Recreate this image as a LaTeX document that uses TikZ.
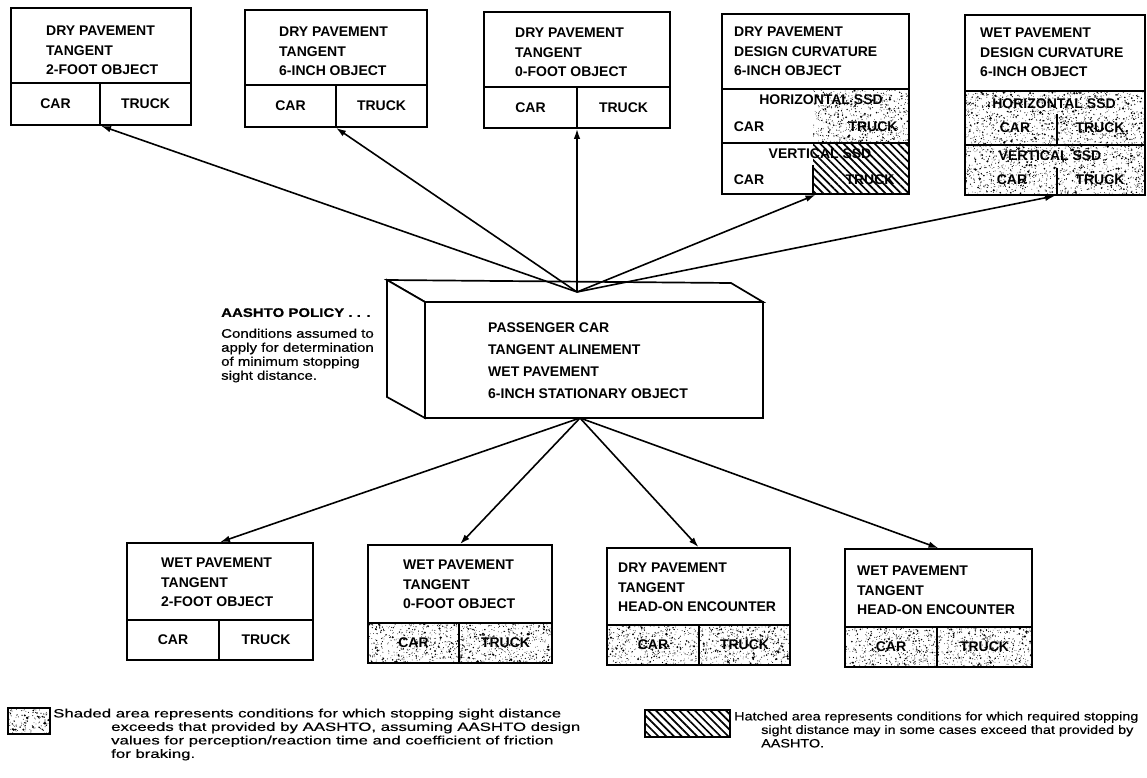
\documentclass[tikz,border=0pt]{standalone}
\usepackage{fontspec}
\setmainfont{Liberation Sans}
\newfontfamily\wideA[FakeStretch=1.2,FakeBold=0.6]{Liberation Sans}
\newfontfamily\legL[FakeStretch=1.4,FakeBold=0.5]{Liberation Sans}
\newfontfamily\legR[FakeStretch=1.2,FakeBold=0.5]{Liberation Sans}
\usetikzlibrary{arrows.meta,patterns.meta,fit}
\newcommand{\scatterdots}[4]{%
  \begin{scope}
    \clip (#1,#2) rectangle (#3,#4);
    \pgfmathtruncatemacro{\spcount}{abs(((#3-#1)*0.36)*((#4-#2)*0.36))}
    \foreach \k in {1,...,\spcount}{%
      \pgfmathsetmacro{\sx}{#1+rnd*(#3-#1)}%
      \pgfmathsetmacro{\sy}{#2+rnd*(#4-#2)}%
      \pgfmathsetmacro{\sr}{0.35+1.3*rnd*rnd*rnd}%
      \fill (\sx,\sy) circle[radius=\sr pt];
    }
  \end{scope}}
\begin{document}
\begin{tikzpicture}[x=1pt,y=-1pt,line join=miter,
  frame/.style={draw,line width=1.7pt,inner sep=0pt},
  rule/.style={line width=1.4pt},
  arr/.style={line width=1.6pt,-{Latex[length=10pt,width=6.5pt]}},
  head/.style={anchor=north west,align=left,inner sep=0pt,font=\fontsize{14}{19.3}\selectfont\bfseries},
  cell/.style={inner sep=0pt,font=\fontsize{14}{17}\selectfont\bfseries},
  hatch/.style={pattern={Lines[angle=-45,distance=5.5pt,line width=1.7pt]}},
  paraA/.style={anchor=north west,align=left,inner sep=0pt,font=\wideA\fontsize{12.5}{14}\selectfont},
  legLtxt/.style={anchor=north west,align=left,inner sep=0pt,font=\legL\fontsize{12}{13.5}\selectfont},
  legRtxt/.style={anchor=north west,align=left,inner sep=0pt,font=\legR\fontsize{12}{13.5}\selectfont}]
\useasboundingbox (0,0) rectangle (1147,778);
\fill[white] (0,0) rectangle (1147,778);
\pgfmathsetseed{12345}
% shaded (speckled) areas
\scatterdots{813}{89}{909}{143}
\scatterdots{965}{91}{1145}{195}
\scatterdots{368}{623}{552}{663}
\scatterdots{607}{625}{790}{665}
\scatterdots{845}{627}{1032}{667}
\scatterdots{8}{708}{50}{734}
% hatched areas
\fill[hatch] (813,143) rectangle (909,194);
\fill[hatch] (645,710) rectangle (730,737);

% ---------- top row ----------
\node[frame,fit={(11,8)(191,125)}] (b1) {};
\draw[rule] (11,83) -- (191,83) (100,83) -- (100,125);
\node[head] (t1) at (46,26) {DRY PAVEMENT\\TANGENT\\2-FOOT OBJECT};
\node[cell] (c1) at (55.5,104) {CAR};
\node[cell] (k1) at (145.5,104) {TRUCK};

\node[frame,fit={(245,10)(427,127)}] (b2) {};
\draw[rule] (245,85) -- (427,85) (336,85) -- (336,127);
\node[head] (t2) at (279,27) {DRY PAVEMENT\\TANGENT\\6-INCH OBJECT};
\node[cell] (c2) at (290.5,106) {CAR};
\node[cell] (k2) at (381.5,106) {TRUCK};

\node[frame,fit={(484,12)(670,128)}] (b3) {};
\draw[rule] (484,87) -- (670,87) (577,87) -- (577,128);
\node[head] (t3) at (515,28) {DRY PAVEMENT\\TANGENT\\0-FOOT OBJECT};
\node[cell] (c3) at (530.5,107.5) {CAR};
\node[cell] (k3) at (623.5,107.5) {TRUCK};

\node[frame,fit={(722,14)(909,194)}] (b4) {};
\draw[rule] (722,89) -- (909,89) (722,143) -- (909,143) (813,165) -- (813,194);
\node[head] (t4) at (734,27) {DRY PAVEMENT\\DESIGN CURVATURE\\6-INCH OBJECT};
\node[cell] (h4) at (821,100) {HORIZONTAL SSD};
\node[cell] (c4a) at (749,127) {CAR};
\node[cell] (k4a) at (873,127) {TRUCK};
\node[cell] (v4) at (820,154) {VERTICAL SSD};
\node[cell] (c4b) at (749,180) {CAR};
\node[cell] (k4b) at (870,180) {TRUCK};

\node[frame,fit={(965,15)(1145,195)}] (b5) {};
\draw[rule] (965,91) -- (1145,91) (965,145) -- (1145,145) (1057,114) -- (1057,145) (1057,168) -- (1057,195);
\node[head] (t5) at (980,28) {WET PAVEMENT\\DESIGN CURVATURE\\6-INCH OBJECT};
\node[cell] (h5) at (1054,104) {HORIZONTAL SSD};
\node[cell] (c5a) at (1015,128) {CAR};
\node[cell] (k5a) at (1100,128) {TRUCK};
\node[cell] (v5) at (1050,156) {VERTICAL SSD};
\node[cell] (c5b) at (1012,180) {CAR};
\node[cell] (k5b) at (1100,180) {TRUCK};

% ---------- central block ----------
\draw[line width=1.7pt,fill=white] (387,280) -- (731,283) -- (763,302) -- (425,302) -- cycle;
\draw[line width=1.7pt,fill=white] (387,280) -- (425,302) -- (425,418) -- (387,397) -- cycle;
\node[frame,fill=white,fit={(425,302)(763,418)}] (core) {};
\node[anchor=north west,align=left,inner sep=0pt,font=\fontsize{14}{21.7}\selectfont\bfseries] (ct) at (488,323)
  {PASSENGER CAR\\TANGENT ALINEMENT\\WET PAVEMENT\\6-INCH STATIONARY OBJECT};
\coordinate (ctop) at (577,292);
\coordinate (cbot) at (580,418);

% policy note
\node[paraA,font=\wideA\bfseries\fontsize{12.5}{14}\selectfont] (pol) at (221,308) {AASHTO POLICY . . .};
\node[paraA] (cond) at (221,328.5) {Conditions assumed to\\apply for determination\\of minimum stopping\\sight distance.};

% ---------- bottom row ----------
\node[frame,fit={(127,543)(313,660)}] (b6) {};
\draw[rule] (127,620) -- (313,620) (219,620) -- (219,660);
\node[head] (t6) at (161,558) {WET PAVEMENT\\TANGENT\\2-FOOT OBJECT};
\node[cell] (c6) at (173,640) {CAR};
\node[cell] (k6) at (266,640) {TRUCK};

\node[frame,fit={(368,545)(552,663)}] (b7) {};
\draw[rule] (368,623) -- (552,623) (459,623) -- (459,663);
\node[head] (t7) at (403,560) {WET PAVEMENT\\TANGENT\\0-FOOT OBJECT};
\node[cell] (c7) at (413.5,643) {CAR};
\node[cell] (k7) at (505.5,643) {TRUCK};

\node[frame,fit={(607,548)(790,665)}] (b8) {};
\draw[rule] (607,625) -- (790,625) (699,625) -- (699,665);
\node[head] (t8) at (618,563) {DRY PAVEMENT\\TANGENT\\HEAD-ON ENCOUNTER};
\node[cell] (c8) at (653,645) {CAR};
\node[cell] (k8) at (744.5,645) {TRUCK};

\node[frame,fit={(845,549)(1032,667)}] (b9) {};
\draw[rule] (845,627) -- (1032,627) (937,627) -- (937,667);
\node[head] (t9) at (857,566) {WET PAVEMENT\\TANGENT\\HEAD-ON ENCOUNTER};
\node[cell] (c9) at (891,647) {CAR};
\node[cell] (k9) at (984.5,647) {TRUCK};

% ---------- connectors ----------
\foreach \b in {b1,b2,b3,b4,b5} \draw[arr] (ctop) -- (\b.south);
\foreach \b in {b6,b7,b8,b9} \draw[arr] (cbot) -- (\b.north);

% ---------- legend ----------
\node[frame,line width=1.3pt,fit={(8,708)(50,734)}] (sw1) {};
\node[legLtxt] (l1) at (53,708.5) {Shaded area represents conditions for which stopping sight distance};
\node[legLtxt] (l2) at (111,722) {exceeds that provided by AASHTO, assuming AASHTO design\\values for perception/reaction time and coefficient of friction\\for braking.};
\node[frame,line width=1.3pt,fit={(645,710)(730,737)}] (sw2) {};
\node[legRtxt] (r1) at (734,711.5) {Hatched area represents conditions for which required stopping};
\node[legRtxt] (r2) at (761,725) {sight distance may in some cases exceed that provided by\\AASHTO.};
\end{tikzpicture}
\end{document}
